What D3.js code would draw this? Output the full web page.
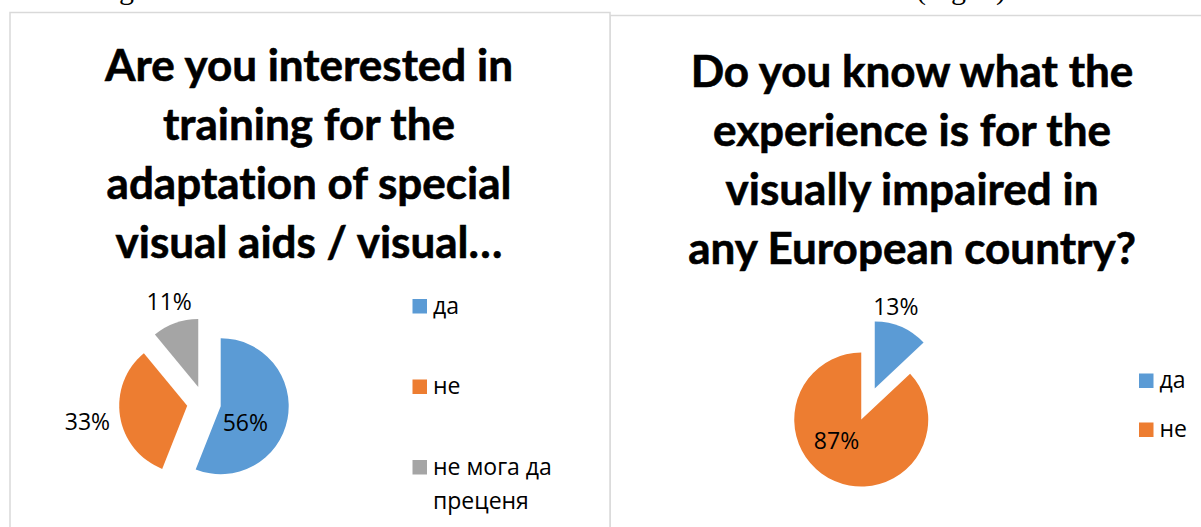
<!DOCTYPE html>
<html>
<head>
<meta charset="utf-8">
<script src="https://cdn.jsdelivr.net/npm/d3@7"></script>
<style>
  html, body { margin: 0; padding: 0; background: #fff; overflow: hidden; }
  svg { display: block; }
  text { font-variant-ligatures: none; font-feature-settings: "liga" 0; }
</style>
</head>
<body>
<svg id="chart" width="1201" height="527"></svg>
<script>
// ---- data ----
const leftTitle = ["Are you interested in", "training for the", "adaptation of special", "visual aids / visual…"];
const leftCategories = ["да", "не", "не мога да преценя"];
const leftValues = [56, 33, 11];

const rightTitle = ["Do you know what the", "experience is for the", "visually impaired in", "any European country?"];
const rightCategories = ["да", "не"];
const rightValues = [13, 87];

const sliceColors = ["#5B9BD5", "#ED7D31", "#A5A5A5"];

// ---- layout ----
const svg = d3.select("#chart");
svg.append("rect").attr("width", 1201).attr("height", 527).attr("fill", "#fff");

// running text of the page, cut off by the top edge
const serif = "'Liberation Serif', 'Times New Roman', serif";
svg.append("text").attr("x", 94).attr("y", -1)
  .attr("font-family", serif).attr("font-size", 30).attr("fill", "#000").text("Fig. 2");
svg.append("text").attr("x", 916).attr("y", -1)
  .attr("font-family", serif).attr("font-size", 30).attr("fill", "#000").text("(Fig. 3)");

// chart frames
svg.append("rect").attr("x", 610).attr("y", 15.5).attr("width", 640).attr("height", 600)
  .attr("fill", "none").attr("stroke", "#D9D9D9").attr("stroke-width", 1.5);
svg.append("rect").attr("x", 10).attr("y", 12.5).attr("width", 600).attr("height", 600)
  .attr("fill", "#fff").attr("stroke", "#D9D9D9").attr("stroke-width", 1.5);

const titleFont = "Lato, 'Open Sans', sans-serif";
const bodyFont = "'Open Sans', 'Noto Sans', sans-serif";

function drawChart(cfg) {
  const g = svg.append("g");

  // title
  const title = g.append("text")
    .attr("font-family", titleFont).attr("font-weight", 700)
    .attr("font-size", cfg.titleSize).attr("fill", "#000")
    .attr("stroke", "#000").attr("stroke-width", 0.6)
    .attr("text-anchor", "middle");
  cfg.title.forEach((line, i) => {
    title.append("tspan").attr("x", cfg.titleX).attr("y", cfg.titleY + i * cfg.titleStep).text(line);
  });

  // pie
  const total = d3.sum(cfg.values);
  const arcs = d3.pie().sort(null).value(d => d)(cfg.values);
  const arc = d3.arc().innerRadius(0).outerRadius(cfg.r);
  const color = d3.scaleOrdinal().domain(cfg.categories).range(sliceColors);

  const slices = g.append("g").attr("transform", `translate(${cfg.cx},${cfg.cy})`);
  slices.selectAll("path").data(arcs).join("path")
    .attr("transform", d => {
      const mid = (d.startAngle + d.endAngle) / 2;
      return `translate(${cfg.explode * Math.sin(mid)},${-cfg.explode * Math.cos(mid)})`;
    })
    .attr("d", arc)
    .attr("fill", (d, i) => color(cfg.categories[i]));

  // percentage labels (polar placement around the pie centre)
  slices.selectAll("text").data(arcs).join("text")
    .attr("x", (d, i) => cfg.labelPolar[i][1] * Math.sin(cfg.labelPolar[i][0] * Math.PI / 180))
    .attr("y", (d, i) => -cfg.labelPolar[i][1] * Math.cos(cfg.labelPolar[i][0] * Math.PI / 180))
    .attr("dy", "0.36em")
    .attr("text-anchor", "middle")
    .attr("font-family", bodyFont).attr("font-size", 23).attr("fill", "#000")
    .text(d => Math.round(d.value / total * 100) + "%");

  // legend
  const lg = g.append("g");
  cfg.categories.forEach((cat, i) => {
    const y = cfg.legendY + i * cfg.legendStep;
    lg.append("rect").attr("x", cfg.legendX).attr("y", y - 14.5)
      .attr("width", 14.5).attr("height", 14.5).attr("fill", color(cat));
    const t = lg.append("text").attr("font-family", bodyFont).attr("font-size", 23).attr("fill", "#000");
    // wrap long entries
    const words = cat.split(" ");
    let line = [], lineNo = 0;
    let ts = t.append("tspan").attr("x", cfg.legendX + 20.5).attr("y", y);
    words.forEach(w => {
      line.push(w);
      ts.text(line.join(" "));
      if (ts.node().getComputedTextLength() > cfg.legendWrap && line.length > 1) {
        line.pop();
        ts.text(line.join(" "));
        line = [w];
        lineNo++;
        ts = t.append("tspan").attr("x", cfg.legendX + 20.5).attr("y", y + lineNo * 34).text(w);
      }
    });
  });
}

drawChart({
  title: leftTitle, titleX: 309, titleY: 81, titleStep: 59, titleSize: 44,
  categories: leftCategories, values: leftValues,
  cx: 204, cy: 403, r: 68, explode: 17,
  labelPolar: [[116, 46], [261, 118], [341, 107]],
  legendX: 412.5, legendY: 313.5, legendStep: 80.5, legendWrap: 140
});

drawChart({
  title: rightTitle, titleX: 912, titleY: 87, titleStep: 59, titleSize: 44,
  categories: rightCategories, values: rightValues,
  cx: 868, cy: 404, r: 67, explode: 17,
  labelPolar: [[16, 101], [221, 48]],
  legendX: 1139, legendY: 388, legendStep: 49, legendWrap: 140
});
</script>
</body>
</html>
